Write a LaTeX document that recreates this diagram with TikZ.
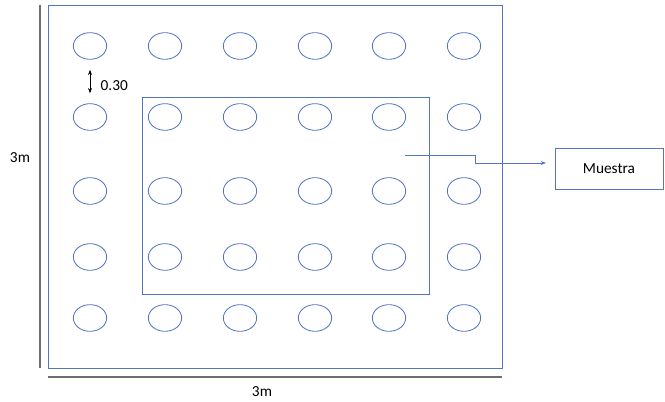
\documentclass[tikz,border=0pt]{standalone}
\usepackage{fontspec}
\setmainfont{Carlito}
\definecolor{plotblue}{RGB}{84,118,192}
\definecolor{dimgray}{RGB}{110,110,110}
\usetikzlibrary{arrows.meta,positioning,shapes.geometric,calc}

\begin{document}
\begin{tikzpicture}[
  x=0.75pt, y=-0.75pt,
  every node/.style={font=\fontsize{11.5}{13}\selectfont},
  hole/.style={draw=plotblue, ellipse, minimum width=25pt, minimum height=20pt, inner sep=0pt, line width=0.6pt},
  frame/.style={draw=plotblue, line width=0.6pt},
  dimline/.style={draw=dimgray, line width=1.1pt},
]
\useasboundingbox (0,0) rectangle (665,402);

% Plot (3m x 3m)
\draw[frame] (48,5) rectangle (502,368);

% Holes, 5 rows x 6 columns
\foreach \y [count=\r] in {46,117,191,257,318}{
  \foreach \x [count=\c] in {90,165,240,315,389,464}{
    \node[hole] (h-\r-\c) at (\x,\y) {};
  }
}

% Sample area
\draw[frame] (142,97) rectangle (429,294);

% Spacing between rows
\draw[{Stealth[length=4pt]}-{Stealth[length=4pt]}, line width=0.6pt, shorten <=7.5pt, shorten >=7.5pt]
  (h-1-1.south) -- (h-2-1.north);
\node[anchor=west] (gap) at (96,86) {0.30};

% Dimensions
\draw[dimline] (40,5) -- (40,368);
\node (side) at (20,158) {3m};
\draw[dimline] (48,377) -- (502,377);
\node (base) at (262,392) {3m};

% Label box
\node[draw=plotblue, line width=0.6pt, minimum width=81pt, minimum height=31pt, inner sep=0pt]
      (muestra) at (609,169) {Muestra};
\coordinate (src) at (405,155);
\coordinate (tip) at (546,163);
\draw[-{Stealth[length=4pt]}, plotblue, line width=0.6pt] (src) -- (475,155) -- (475,163) -- (tip);

\end{tikzpicture}
\end{document}
